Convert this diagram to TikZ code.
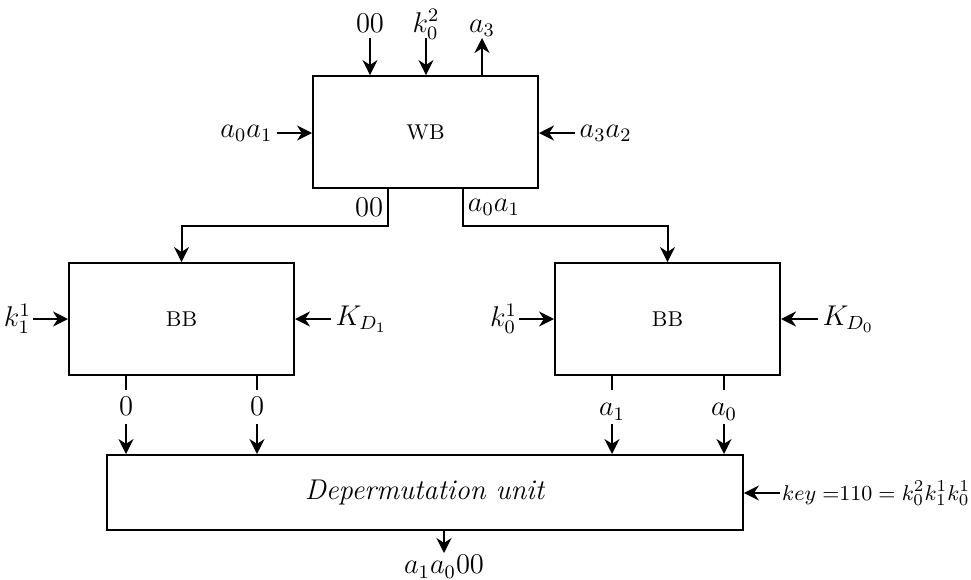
\documentclass[tikz,border=0pt]{standalone}
\usepackage{amsmath,amssymb}
\usetikzlibrary{arrows.meta, positioning, calc}
\newcommand\lblfont{\fontsize{11.5}{14}\selectfont}

\begin{document}
\begin{tikzpicture}[x=0.42pt, y=-0.42pt, line width=0.84pt, >={Stealth[length=6.3pt,width=6.3pt]},
    blk/.style={draw, minimum width=94.5pt, minimum height=47pt, inner sep=0pt, font=\small},
    lbl/.style={inner sep=1.5pt, font=\lblfont},
    vlbl/.style={inner sep=2pt, text height=7.5pt, text depth=0pt, font=\lblfont}]
    \useasboundingbox (0,0) rectangle (971,579);
    % 白盒
    \node[blk] (wb) at (425.5,132) {WB};
    \node[vlbl, anchor=south] (t00) at (370,38) {$00$};
    \node[vlbl, anchor=south] (tk) at (426,38) {$k_0^2$};
    \node[vlbl, anchor=south] (ta) at (482,38) {$a_3$};
    \draw[->] (t00.south) -- (t00.south |- wb.north);
    \draw[->] (tk.south) -- (tk.south |- wb.north);
    \draw[->] (ta.south |- wb.north) -- (ta.south);
    \node[lbl, anchor=east] (wbin) at (277,133) {$a_0a_1$};
    \node[lbl, anchor=west] (wbkey) at (575,133) {$a_3a_2$};
    \draw[->] (wbin.east) -- (wbin.east -| wb.west);
    \draw[->] (wbkey.west) -- (wbkey.west -| wb.east);
    % 黑盒
    \node[blk] (bbl) at (181.5,319) {BB};
    \node[blk] (bbr) at (667.5,319) {BB};
    \draw[->] ($(wb.south west)!1/3!(wb.south east)$) -- node[lbl, left] (l00) {$00$} ++(0,37) -| (bbl.north);
    \draw[->] ($(wb.south west)!2/3!(wb.south east)$) -- node[lbl, right] (la0a1) {$a_0a_1$} ++(0,37) -| (bbr.north);
    \node[lbl, anchor=east, inner sep=0.5pt] (kl) at (33,319) {$k_1^1$};
    \node[lbl, anchor=west] (kdl) at (331,319) {$K_{D_1}$};
    \node[lbl, anchor=east, inner sep=0.5pt] (kr) at (519,319) {$k_0^1$};
    \node[lbl, anchor=west] (kdr) at (818,319) {$K_{D_0}$};
    \draw[->] (kl.east) -- (bbl.west);
    \draw[->] (kdl.west) -- (bbl.east);
    \draw[->] (kr.east) -- (bbr.west);
    \draw[->] (kdr.west) -- (bbr.east);
    % 逆置换单元
    \node[draw, minimum width=267pt, minimum height=31.5pt, inner sep=0pt, font=\large] (dep) at (425,492.5) {\textit{Depermutation unit}};
    \foreach \x/\t/\n in {126/0/o1, 257/0/o2, 612/a_1/o3, 724/a_0/o4} {
        \node[vlbl, inner sep=3pt] (\n) at (\x,407) {$\t$};
        \draw (\n.north |- bbl.south) -- (\n.north);
        \draw[->] (\n.south) -- (\n.south |- dep.north);
    }
    \node[anchor=west, inner sep=0.5pt, font=\fontsize{9.4}{11}\selectfont] (key) at (780,493) {$key\;{=}110=k_0^2k_1^1k_0^1$};
    \draw[->] (key.west) -- (key.west -| dep.east);
    \node[vlbl, anchor=north, text height=6.8pt, inner sep=1.5pt] (res) at (444,553) {$a_1a_000$};
    \draw[->] (res.north |- dep.south) -- (res.north);
\end{tikzpicture}
\end{document}
